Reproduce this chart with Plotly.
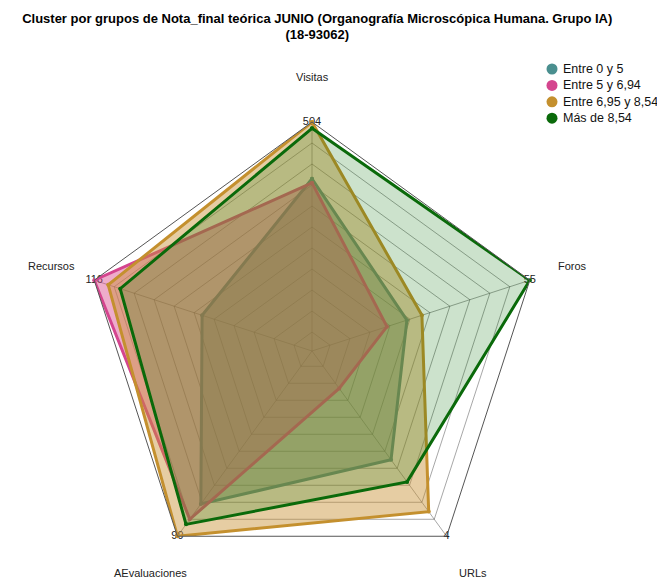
import math
import plotly.graph_objects as go

categories = ["Visitas", "Foros", "URLs", "AEvaluaciones", "Recursos"]
max_values = [504, 55, 4, 99, 116]

series_names = ["Entre 0 y 5", "Entre 5 y 6,94", "Entre 6,95 y 8,54", "Más de 8,54"]
# values normalised to each axis maximum
teal_vals = [0.73, 0.385, 0.55, 0.81, 0.46]
pink_vals = [0.71, 0.285, 0.13, 0.90, 1.00]
gold_vals = [1.00, 0.46, 0.855, 1.00, 0.93]
green_vals = [0.97, 1.00, 0.68, 0.93, 0.87]
series_values = [teal_vals, pink_vals, gold_vals, green_vals]

line_colors = ["#4a8c8c", "#d4458e", "#c4902e", "#0a6a0a"]
fill_colors = ["rgba(74,140,120,0.45)", "rgba(217,70,140,0.45)",
               "rgba(200,145,50,0.45)", "rgba(0,110,0,0.2)"]
legend_colors = ["#4a8f8f", "#d4458e", "#c4902e", "#0a6a0a"]

FONT = "Liberation Sans, Arial, sans-serif"
W, H = 665, 580
# polar geometry (pixels)
CX, CY, RAD = 304, 343, 229
LABEL_RAD = 274

fig = go.Figure()

# max value labels at the outer vertices
fig.add_trace(go.Scatterpolar(
    r=[1.0] * len(categories), theta=categories, mode="text",
    text=[str(v) for v in max_values], textposition="middle center",
    textfont=dict(family=FONT, size=11, color="#222"),
    showlegend=False, hoverinfo="skip", cliponaxis=False))

for name, vals, lc, fc in zip(series_names, series_values, line_colors, fill_colors):
    fig.add_trace(go.Scatterpolar(
        r=vals + [vals[0]], theta=categories + [categories[0]],
        mode="lines+markers", fill="toself", fillcolor=fc,
        line=dict(color=lc, width=3), marker=dict(color=lc, size=4),
        name=name, showlegend=False, cliponaxis=False))

# category labels placed outside the pentagon
n = len(categories)
for i, cat in enumerate(categories):
    ang = math.radians(90 - 360 / n * i)
    lx = CX + LABEL_RAD * math.cos(ang)
    ly = CY - LABEL_RAD * math.sin(ang)
    fig.add_annotation(x=lx / W, y=1 - ly / H, xref="paper", yref="paper",
                       text=cat, showarrow=False, xanchor="center", yanchor="middle",
                       font=dict(family=FONT, size=11, color="#222"))

# custom legend (circles + text) at top right
leg_x, leg_y0, leg_dy = 544, 61, 16.4
for i, (name, c) in enumerate(zip(series_names, legend_colors)):
    cy = leg_y0 + i * leg_dy
    fig.add_shape(type="circle", xref="paper", yref="paper",
                  x0=(leg_x - 5.5) / W, x1=(leg_x + 5.5) / W,
                  y0=1 - (cy + 5.5) / H, y1=1 - (cy - 5.5) / H,
                  fillcolor=c, line=dict(width=0))
    fig.add_annotation(x=(leg_x + 9) / W, y=1 - cy / H, xref="paper", yref="paper",
                       text=name, showarrow=False, xanchor="left", yanchor="middle",
                       font=dict(family=FONT, size=12.5, color="#111"))

fig.update_layout(
    width=W, height=H,
    margin=dict(l=0, r=0, t=0, b=0),
    paper_bgcolor="white",
    showlegend=False,
    font=dict(family=FONT, size=11, color="#222"),
    title=dict(
        text="<b>Cluster por grupos de Nota_final teórica JUNIO (Organografía Microscópica Humana. Grupo IA)<br>(18-93062)</b>",
        x=0.465, xanchor="center", y=0.975, yanchor="top",
        font=dict(family=FONT, size=13, color="#000")),
    polar=dict(
        domain=dict(x=[(CX - RAD) / W, (CX + RAD) / W],
                    y=[1 - (CY + RAD) / H, 1 - (CY - RAD) / H]),
        bgcolor="white",
        gridshape="linear",
        radialaxis=dict(range=[-0.09, 1.0], tick0=0, dtick=0.1,
                        showticklabels=False, ticks="", showline=False,
                        gridcolor="rgba(60,60,60,0.45)", gridwidth=1),
        angularaxis=dict(direction="clockwise", rotation=90,
                         categoryorder="array", categoryarray=categories,
                         linecolor="#555", linewidth=1,
                         gridcolor="rgba(60,60,60,0.45)",
                         showticklabels=False, ticks=""),
    ),
)

fig.write_html("out.html")
